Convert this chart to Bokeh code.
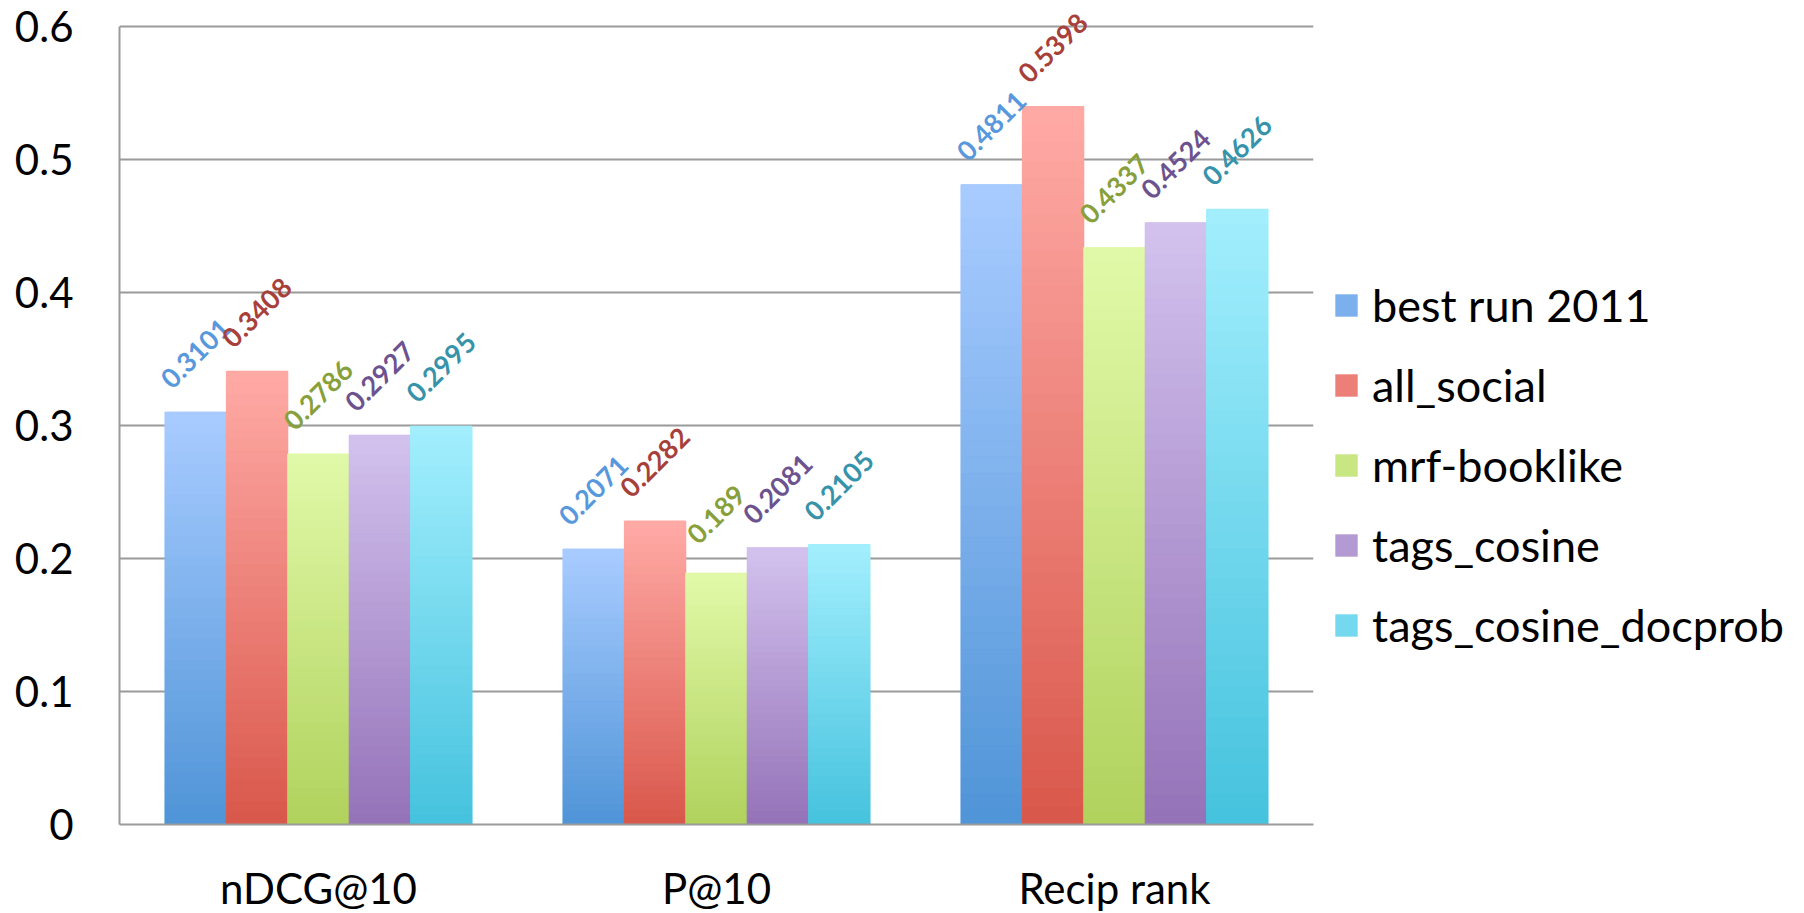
from bokeh.plotting import figure
from bokeh.models import (ColumnDataSource, FactorRange, Range1d, FixedTicker,
                          Legend, LegendItem, LabelSet)
from bokeh.transform import dodge
from bokeh.core.properties import value
from bokeh.embed import file_html
from bokeh.resources import INLINE

# ---------------- data ----------------
categories = ["nDCG@10", "P@10", "Recip rank"]
series_names = ["best run 2011", "all_social", "mrf-booklike", "tags_cosine",
                "tags_cosine_docprob"]
best_run_2011 = [0.3101, 0.2071, 0.4811]
all_social = [0.3408, 0.2282, 0.5398]
mrf_booklike = [0.2786, 0.189, 0.4337]
tags_cosine = [0.2927, 0.2081, 0.4524]
tags_cosine_docprob = [0.2995, 0.2105, 0.4626]
y_ticks = [0, 0.1, 0.2, 0.3, 0.4, 0.5, 0.6]
y_tick_labels = ["0", "0.1", "0.2", "0.3", "0.4", "0.5", "0.6"]

series_values = [best_run_2011, all_social, mrf_booklike, tags_cosine,
                 tags_cosine_docprob]

# ---------------- style ----------------
top_colors = ["#A9CCFF", "#FFAAA6", "#E1F9A9", "#D3C2EE", "#A3EFFD"]
bottom_colors = ["#4F94D8", "#D9574B", "#B0D25C", "#9472B8", "#45C2DE"]
label_colors = ["#5898DC", "#A7403B", "#88A03C", "#6C528F", "#3793AA"]
FONT = "Lato"
BAR_W = 0.1543
LABEL_LIFT = 0.044
N_SLICES = 40

Y_MAX = y_ticks[-1]
FRAME_H = 824            # frame spans from the canvas top down to the zero line
AXIS_TOP_PX = 26         # where the 0.6 gridline sits
y_end = Y_MAX * FRAME_H / (FRAME_H - AXIS_TOP_PX)   # headroom for labels


def hex2rgb(h):
    h = h.lstrip("#")
    return tuple(int(h[i:i + 2], 16) for i in (0, 2, 4))


def mix(c1, c2, t):
    a, b = hex2rgb(c1), hex2rgb(c2)
    return "#%02x%02x%02x" % tuple(int(round(a[i] + (b[i] - a[i]) * t)) for i in range(3))


p = figure(
    x_range=FactorRange(*categories, range_padding=0),
    y_range=Range1d(0, y_end),
    width=1804, height=913,
    frame_width=1194, frame_height=FRAME_H,
    min_border_left=119, min_border_right=491,
    min_border_top=0, min_border_bottom=89,
    output_backend="svg", toolbar_location=None,
)
p.outline_line_color = None
p.background_fill_color = "white"
p.border_fill_color = "white"

legend_items = []
for i, (name, vals) in enumerate(zip(series_names, series_values)):
    off = (i - 2) * BAR_W
    mid = mix(bottom_colors[i], top_colors[i], 0.5)
    base_src = ColumnDataSource(dict(cat=categories, val=vals))
    r = p.vbar(x=dodge("cat", off, range=p.x_range), top="val", bottom=0,
               width=BAR_W, source=base_src, fill_color=mid, line_color=None)
    legend_items.append(LegendItem(label=name, renderers=[r]))

    # vertical gradient made of thin slices of each bar
    xs, bots, tops, cols = [], [], [], []
    for c, v in zip(categories, vals):
        for k in range(N_SLICES):
            xs.append(c)
            bots.append(v * k / N_SLICES)
            tops.append(v * (k + 1) / N_SLICES)
            cols.append(mix(bottom_colors[i], top_colors[i], (k + 0.5) / N_SLICES))
    grad_src = ColumnDataSource(dict(cat=xs, bottom=bots, top=tops, color=cols))
    p.vbar(x=dodge("cat", off, range=p.x_range), top="top", bottom="bottom",
           width=BAR_W, source=grad_src, fill_color="color", line_color="color",
           line_width=1)

    lab_src = ColumnDataSource(dict(cat=categories,
                                    y=[v + LABEL_LIFT for v in vals],
                                    txt=[str(v) for v in vals]))
    labels = LabelSet(x=dodge("cat", off, range=p.x_range), y="y", text="txt",
                      source=lab_src, angle=0.7854, text_align="center",
                      text_baseline="middle", text_font=value(FONT),
                      text_font_style="bold", text_font_size="27px",
                      text_color=label_colors[i])
    p.add_layout(labels)

# axes
p.yaxis.ticker = FixedTicker(ticks=y_ticks)
p.yaxis.major_label_overrides = {t: l for t, l in zip(y_ticks, y_tick_labels)}
p.yaxis.bounds = (0, Y_MAX)
for ax in (p.xaxis[0], p.yaxis[0]):
    ax.axis_line_color = "#9a9a9a"
    ax.axis_line_width = 2
    ax.major_tick_line_color = None
    ax.minor_tick_line_color = None
    ax.major_label_text_font = FONT
    ax.major_label_text_font_size = "42px"
    ax.major_label_text_color = "black"
p.yaxis.major_label_standoff = 40
p.xaxis.major_label_standoff = 32

p.xgrid.grid_line_color = None
p.ygrid.grid_line_color = "#9a9a9a"
p.ygrid.grid_line_width = 2

legend = Legend(items=legend_items, location=(19, 172),
                orientation="vertical", glyph_width=28, glyph_height=28,
                label_height=50, label_standoff=12, spacing=26, padding=0,
                margin=0, border_line_color=None, background_fill_alpha=0,
                label_text_font=FONT, label_text_font_size="45px",
                label_text_color="black")
p.add_layout(legend, "right")

open("out.html", "w").write(file_html(p, INLINE))
